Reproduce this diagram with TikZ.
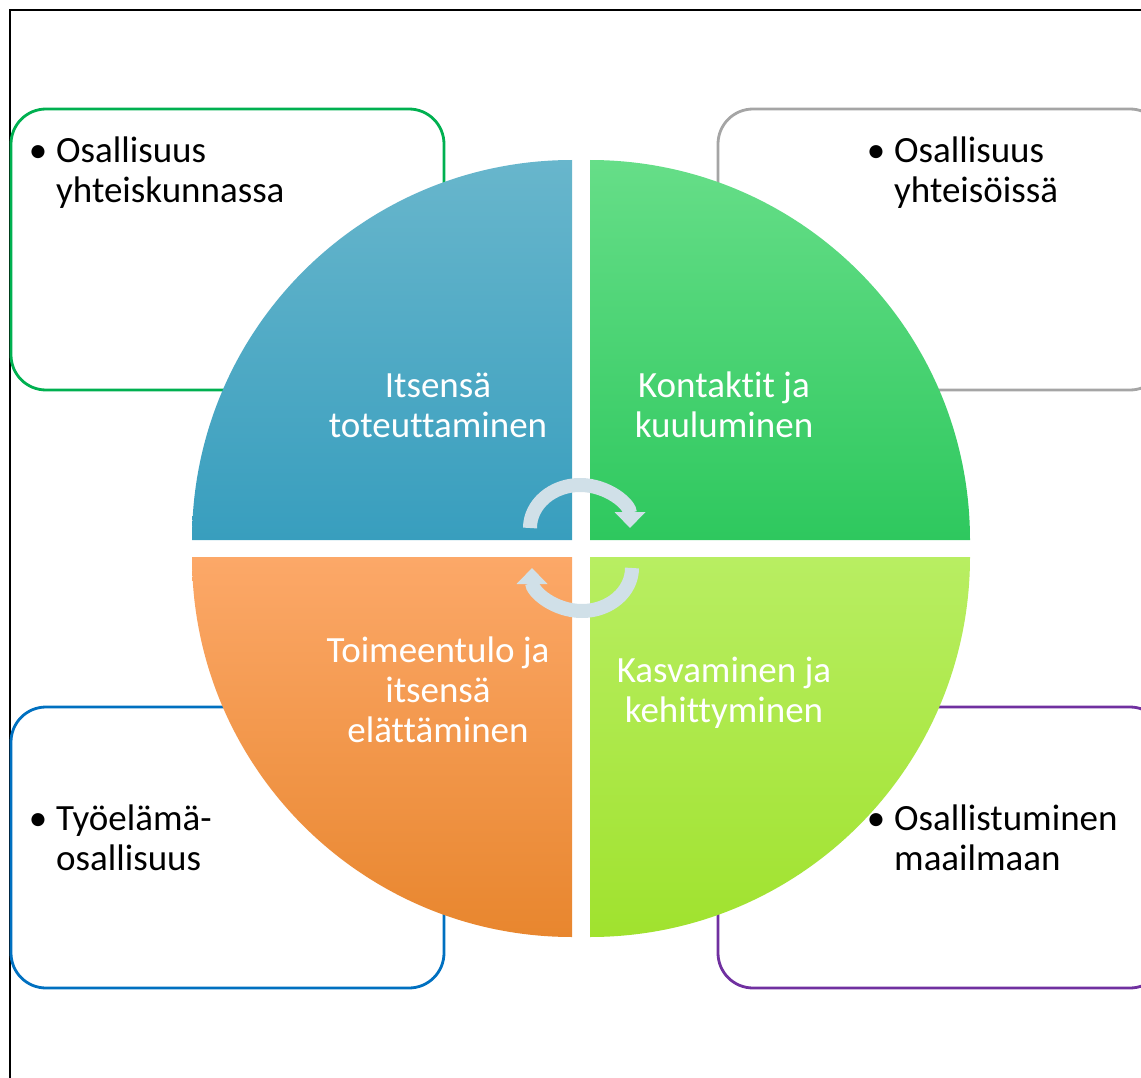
\documentclass[tikz,border=0pt]{standalone}
\usepackage{fontspec}
\setmainfont{Carlito}[Ligatures=NoCommon]
\usetikzlibrary{arrows.meta}

\definecolor{tlTop}{RGB}{104,182,204}
\definecolor{tlBot}{RGB}{56,158,190}
\definecolor{trTop}{RGB}{102,222,136}
\definecolor{trBot}{RGB}{46,200,94}
\definecolor{blTop}{RGB}{252,168,104}
\definecolor{blBot}{RGB}{232,134,46}
\definecolor{brTop}{RGB}{184,238,98}
\definecolor{brBot}{RGB}{160,226,46}
\definecolor{boxGreen}{RGB}{0,176,80}
\definecolor{boxGrey}{RGB}{165,165,165}
\definecolor{boxBlue}{RGB}{0,112,192}
\definecolor{boxPurple}{RGB}{112,48,160}
\definecolor{cycleGrey}{RGB}{208,224,232}

\tikzset{
    itembox/.style={line width=2.8pt, rounded corners=35pt, fill=white},
    itemtext/.style={align=left, anchor=base west, inner sep=0pt,
        font=\fontsize{37}{40}\selectfont},
    sectortext/.style={align=center, anchor=base, inner sep=0pt, text=white,
        font=\fontsize{37}{40}\selectfont},
    cyclearrow/.style={line width=14pt, draw=cycleGrey,
        -{Triangle[length=16pt,width=30pt]}}
}

\newcommand{\itembullet}{\makebox[0pt][r]{\textbullet\hspace{9pt}}}

\begin{document}
\begin{tikzpicture}[x=1pt, y=-1pt]
    \useasboundingbox (0,0) rectangle (1141,1078);
    % frame
    \draw[line width=2pt] (10,1090) -- (10,10) -- (1160,10);

    % outer boxes
    \draw[itembox, draw=boxGreen]  (11,109) rectangle (444,390);
    \draw[itembox, draw=boxGrey]   (718,109) rectangle (1165,390);
    \draw[itembox, draw=boxBlue]   (11,707) rectangle (444,988);
    \draw[itembox, draw=boxPurple] (718,707) rectangle (1165,988);

    % quarters of the circle
    \shade[top color=tlTop, bottom color=tlBot]
        (572,540) -- (192,540) arc[start angle=180, end angle=270, radius=380] -- cycle;
    \shade[top color=trTop, bottom color=trBot]
        (590,540) -- (590,160) arc[start angle=270, end angle=360, radius=380] -- cycle;
    \shade[top color=blTop, bottom color=blBot]
        (572,557) -- (572,937) arc[start angle=90, end angle=180, radius=380] -- cycle;
    \shade[top color=brTop, bottom color=brBot]
        (590,557) -- (970,557) arc[start angle=0, end angle=90, radius=380] -- cycle;

    % box texts (base = last line)
    \node[itemtext] (yhteiskunta) at (56,203) {\itembullet Osallisuus\\yhteiskunnassa};
    \node[itemtext] (yhteisot) at (894,203) {\itembullet Osallisuus\\yhteisöissä};
    \node[itemtext] (tyoelama) at (56,870) {\itembullet Työelämä-\\osallisuus};
    \node[itemtext] (maailma) at (894,870) {\itembullet Osallistuminen\\maailmaan};

    \node[sectortext] (itsensa) at (438,437) {Itsensä\\toteuttaminen};
    \node[sectortext] (kontaktit) at (724,437) {Kontaktit ja\\kuuluminen};
    \node[sectortext] (toimeentulo) at (438,742) {Toimeentulo ja\\itsensä\\elättäminen};
    \node[sectortext] (kasvaminen) at (724,722) {Kasvaminen ja\\kehittyminen};

    % cycle arrows
    \draw[cyclearrow] (530,528) arc[start angle=180, end angle=360, x radius=50, y radius=43];
    \draw[cyclearrow] (632,568) arc[start angle=0, end angle=180, x radius=50, y radius=43];
\end{tikzpicture}
\end{document}
